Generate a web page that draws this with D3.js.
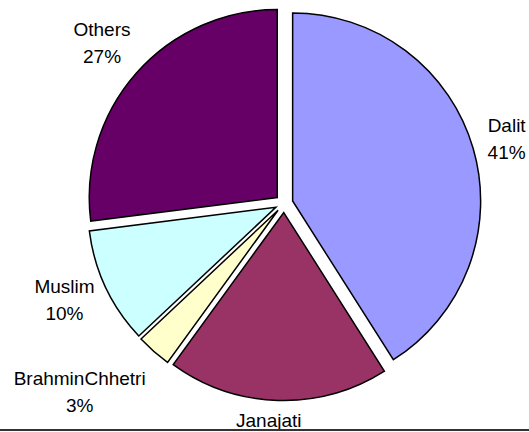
<!DOCTYPE html>
<html>
<head>
<meta charset="utf-8">
<script src="https://cdn.jsdelivr.net/npm/d3@7/dist/d3.min.js"></script>
<style>
  html, body { margin: 0; padding: 0; background: #fff; }
  svg { display: block; }
  .lbl { font-family: "Liberation Sans", Arial, sans-serif; font-size: 19px; fill: #000; }
</style>
</head>
<body>
<div id="chart"></div>
<script>
// data (clockwise from 12 o'clock)
var categories = ["Dalit", "Janajati", "BrahminChhetri", "Muslim", "Others"];
var shares = [41, 19, 3, 10, 27];
var sliceColors = ["#9999ff", "#993366", "#ffffcc", "#ccffff", "#660066"];

var width = 529, height = 432;
var cx = 284, cy = 203.5,
    radius = 188,
    explode = 9,      // every slice pulled out a bit
    labelR = 208,     // where label boxes start
    lineGap = 27;

// Excel shoved some labels around so they don't collide
var labelNudge = {
  "BrahminChhetri": [-28, -12],
  "Muslim": [1, -7],
  "Janajati": [-8, 2]
};

var rows = categories.map(function(c, i) {
  return { name: c, value: shares[i], color: sliceColors[i] };
});

var svg = d3.select("#chart").append("svg")
    .attr("width", width)
    .attr("height", height);

var pie = d3.pie()
    .sort(null)
    .value(function(d) { return d.value; });

var arc = d3.arc()
    .innerRadius(0)
    .outerRadius(radius);

var arcs = pie(rows);

function dir(d) {
  var a = (d.startAngle + d.endAngle) / 2;
  return [Math.sin(a), -Math.cos(a)];
}

var g = svg.append("g")
    .attr("transform", "translate(" + cx + "," + cy + ")");

g.selectAll(".slice")
  .data(arcs)
  .enter().append("path")
    .attr("class", "slice")
    .attr("d", arc)
    .attr("transform", function(d) {
      var u = dir(d);
      return "translate(" + (u[0] * explode) + "," + (u[1] * explode) + ")";
    })
    .style("fill", function(d) { return d.data.color; })
    .style("stroke", "#000")
    .style("stroke-width", 1.5)
    .style("stroke-linejoin", "miter");

// labels: name on top, percent under it
var labels = g.selectAll(".label")
  .data(arcs)
  .enter().append("g")
    .attr("class", "label");

labels.append("text")
    .attr("class", "lbl name")
    .attr("text-anchor", "middle")
    .attr("y", -7)
    .text(function(d) { return d.data.name; });

labels.append("text")
    .attr("class", "lbl pct")
    .attr("text-anchor", "middle")
    .attr("y", -7 + lineGap)
    .text(function(d) { return d.data.value + "%"; });

labels.each(function(d) {
  var el = d3.select(this),
      u = dir(d),
      w = d3.max(el.selectAll("text").nodes(), function(n) { return n.getComputedTextLength(); }),
      h = 13 + lineGap,
      ext = Math.abs(u[0]) * w / 2 + Math.abs(u[1]) * h / 2,
      r = labelR + ext,
      nudge = labelNudge[d.data.name] || [0, 0],
      tx = u[0] * r + nudge[0],
      ty = u[1] * r + nudge[1];
  el.attr("transform", "translate(" + tx + "," + ty + ")");
  // the percent under Janajati falls below the frame in the original
  if (cy + ty - 7 + lineGap > height - 4) el.select(".pct").remove();
});

// dark rule along the bottom edge
svg.append("line")
    .attr("x1", 0).attr("x2", width)
    .attr("y1", 430).attr("y2", 430)
    .style("stroke", "#333")
    .style("stroke-width", 2);
</script>
</body>
</html>
